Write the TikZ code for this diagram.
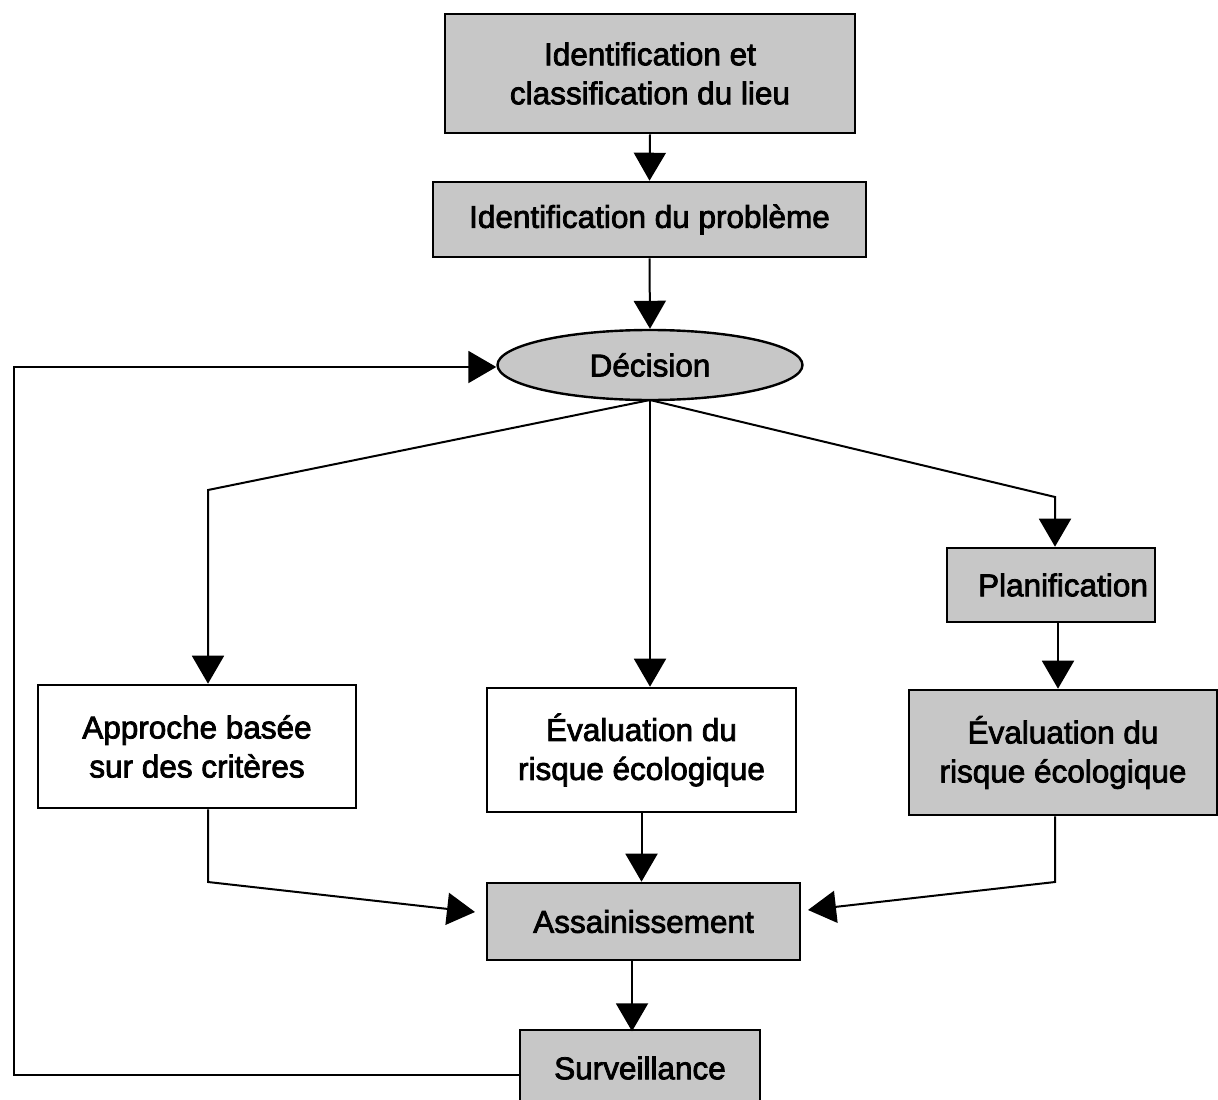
\documentclass[tikz,border=0pt]{standalone}
\usepackage{fontspec}
\setmainfont{Liberation Sans}[BoldFeatures={FakeBold=2.5}, BoldFont=Liberation Sans]
\usetikzlibrary{arrows.meta,shapes.geometric}
\definecolor{shade}{gray}{0.78}
\begin{document}
\begin{tikzpicture}[x=1pt,y=-1pt,
  every node/.style={font=\fontsize{31.5}{39}\selectfont\bfseries, align=center, inner sep=0pt},
  box/.style={draw, line width=2.6pt, minimum width=#1},
  greybox/.style={box=#1, fill=shade},
  flow/.style={line width=2pt, -{Triangle[width=32pt,length=28pt]}}]
\useasboundingbox (0,0) rectangle (1218,1100);

% boxes
\node[greybox=410, minimum height=119] (lieu) at (650,73.5) {Identification et\\classification du lieu};
\node[greybox=433, minimum height=75] (prob) at (649.5,219.5) {Identification du problème};
\node[ellipse, draw, line width=2.4pt, fill=shade, minimum width=305, minimum height=70] (dec) at (650,365) {Décision};
\node[box=318, fill=white, minimum height=123] (crit) at (197,746.5) {Approche basée\\sur des critères};
\node[box=309, fill=white, minimum height=124] (erm) at (641.5,750) {Évaluation du\\risque écologique};
\node[greybox=208, minimum height=74] (plan) at (1051,585) {\hspace*{24pt}Planification};
\node[greybox=308, minimum height=125] (erd) at (1063,752.5) {Évaluation du\\risque écologique};
\node[greybox=313, minimum height=77] (ass) at (643.5,921.5) {Assainissement};
\node[greybox=240, minimum height=76] (surv) at (640,1068) {Surveillance};

% bend points
\coordinate (decB) at (650,400);
\coordinate (lk) at (208,490);
\coordinate (rk) at (1055,497);
\coordinate (lb) at (208,882);
\coordinate (rb) at (1055,882);
\coordinate (lt) at (475,912);
\coordinate (rt) at (808,910);
\coordinate (fb1) at (14,1075);
\coordinate (fb2) at (14,367);

% connectors
\draw[flow] (lieu.south) -- (prob.north);
\draw[flow] (prob.south) -- (dec.north);
\draw[flow] (decB) -- (lk) -- (crit.north -| lk);
\draw[flow] (dec.south) -- (erm.north -| dec.south);
\draw[flow] (decB) -- (rk) -- (plan.north -| rk);
\draw[flow] (plan.south -| rk) ++(3,0) -- (erd.north -| 1058,0);
\draw[flow] (crit.south -| lb) -- (lb) -- (lt);
\draw[flow] (erd.south -| rb) -- (rb) -- (rt);
\draw[flow] (erm.south) -- (ass.north -| erm.south);
\draw[flow] (ass.south -| surv.north) ++(-8,0) -- ++(0,70);
\draw[flow] (surv.west |- fb1) -- (fb1) -- (fb2) -- (dec.west |- fb2);
\end{tikzpicture}
\end{document}
